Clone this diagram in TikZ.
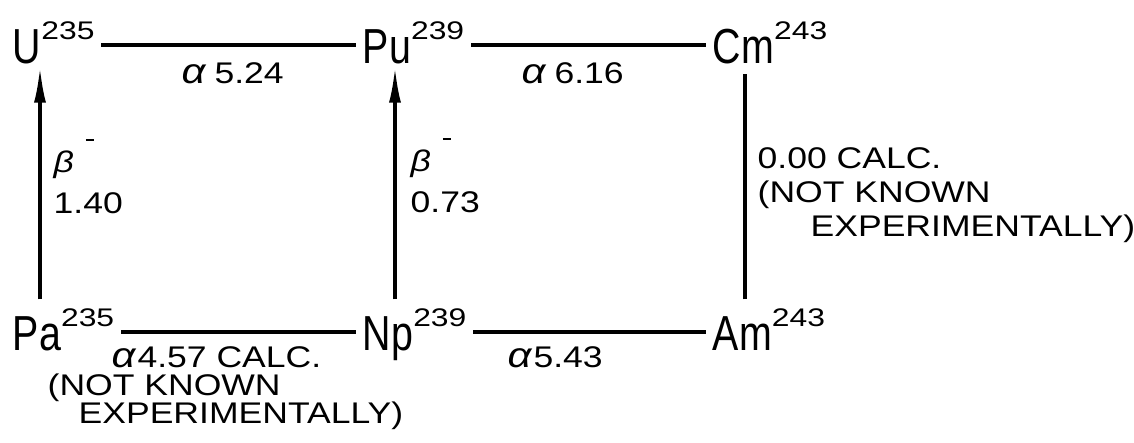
\documentclass[tikz,border=0pt]{standalone}
\usepackage{fontspec}
\setmainfont{Liberation Sans}
\newfontfamily\elemfont[FakeStretch=0.8]{Liberation Sans}
\newfontfamily\massfont[FakeStretch=1.25]{Liberation Sans}
\newfontfamily\lblfont[FakeStretch=1.19]{Liberation Sans}
\usetikzlibrary{arrows.meta}
% element symbol with its mass number raised after it
\newcommand{\nucl}[2]{{\elemfont\fontsize{28}{28}\selectfont #1}\raisebox{0.47cm}{\massfont\fontsize{14.5}{14.5}\selectfont #2}}
\newcommand{\alp}{{\fontsize{20}{20}\selectfont\itshape α}}
\newcommand{\betam}{\textit{β}\hspace{0.24cm}\raisebox{0.64cm}{\rule{0.17cm}{0.045cm}}}
\newcommand{\tightlines}{\lineskiplimit=-10pt\relax}

\begin{document}
\begin{tikzpicture}[x=0.02cm, y=-0.02cm, line width=1.9pt,
    nuc/.style={inner xsep=3pt, inner ysep=0pt, text height=0.82cm, text depth=0pt, anchor=base west},
    lbl/.style={inner sep=0pt, font=\lblfont\fontsize{17}{19}\selectfont},
    decay/.style={-{Latex[length=0.72cm, width=0.24cm]}, shorten <=0.16cm, shorten >=0.04cm}]
    \useasboundingbox (0,0) rectangle (1134,443);
    % nuclides, top row and bottom row
    \node[nuc] (U)  at (6,63)    {\nucl{U}{235}};
    \node[nuc] (Pu) at (356,63)  {\nucl{Pu}{239}};
    \node[nuc] (Cm) at (706,63)  {\nucl{Cm}{243}};
    \node[nuc] (Pa) at (6,350)   {\nucl{Pa}{235}};
    \node[nuc] (Np) at (356,350) {\nucl{Np}{239}};
    \node[nuc] (Am) at (706,350) {\nucl{Am}{243}};
    % alpha links
    \draw ([yshift=0.36cm]U.base east)  -- ([yshift=0.36cm]Pu.base west);
    \draw ([yshift=0.36cm]Pu.base east) -- ([yshift=0.36cm]Cm.base west);
    \draw ([yshift=0.36cm]Pa.base east) -- ([yshift=0.36cm]Np.base west);
    \draw ([yshift=0.36cm]Np.base east) -- ([yshift=0.36cm]Am.base west);
    % beta decays and the plain link on the right
    \draw[decay] ([xshift=0.68cm]Pa.north west) -- ([xshift=0.68cm]U.south west);
    \draw[decay] ([xshift=0.78cm]Np.north west) -- ([xshift=0.78cm]Pu.south west);
    \draw[shorten <=0.16cm, shorten >=0.18cm] ([xshift=0.78cm]Am.north west) -- ([xshift=0.78cm]Cm.south west);
    % energies
    \node[lbl, anchor=base west] (a524) at (180,83)  {\alp\hspace{0.18cm}5.24};
    \node[lbl, anchor=base west] (a616) at (520,83)  {\alp\hspace{0.18cm}6.16};
    \node[lbl, anchor=base west] (a543) at (506,367) {\alp\hspace{0.04cm}5.43};
    \node[lbl, anchor=south west, align=left, font=\lblfont\fontsize{17}{22.8}\selectfont] (b140) at (52,215) {\betam\\1.40};
    \node[lbl, anchor=south west, align=left, font=\lblfont\fontsize{17}{22.8}\selectfont] (b073) at (409,214) {\betam\\0.73};
    \node[lbl, anchor=north west, align=left, font=\lblfont\fontsize{17}{15.9}\selectfont\tightlines] (a457) at (46,345)
        {\hspace*{1.28cm}\alp\hspace{0.04cm}4.57 CALC.\\(NOT KNOWN\\\hspace*{0.62cm}EXPERIMENTALLY)};
    \node[lbl, anchor=north west, align=left, font=\lblfont\fontsize{17}{19.3}\selectfont\tightlines] (g000) at (756,146)
        {0.00 CALC.\\(NOT KNOWN\\\hspace*{1.06cm}EXPERIMENTALLY)};
\end{tikzpicture}
\end{document}
